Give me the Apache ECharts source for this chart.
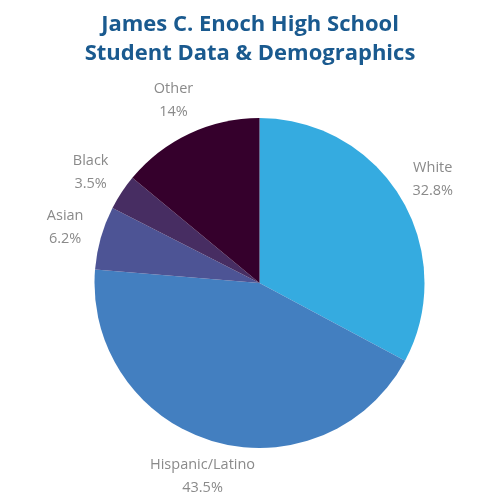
<!DOCTYPE html>
<html><head><meta charset="utf-8">
<script src="https://cdn.jsdelivr.net/npm/echarts@6/dist/echarts.min.js"></script>
<style>html,body{margin:0;padding:0;background:#fff}#c{width:500px;height:500px}</style>
</head><body><div id="c"></div>
<script>
const categories = ['White', 'Hispanic/Latino', 'Asian', 'Black', 'Other'];
const values = [32.8, 43.5, 6.2, 3.5, 14];
const valueLabels = ['32.8%', '43.5%', '6.2%', '3.5%', '14%'];
const colors = ['#35ABE0', '#437FC0', '#4D5495', '#472D62', '#35002C'];

const chart = echarts.init(document.getElementById('c'), null, {renderer: 'canvas'});
const LABEL_OFF = 37;
chart.setOption({
  animation: false,
  title: {
    text: 'James C. Enoch High School\nStudent Data & Demographics',
    left: 'center', top: 5,
    textStyle: {fontFamily: 'Open Sans', fontWeight: 'bold', fontSize: 22, lineHeight: 29, color: '#1A5A8F'}
  },
  series: [{
    type: 'pie',
    center: ['51.9%', '56.6%'],
    radius: 165,
    startAngle: 90,
    clockwise: true,
    avoidLabelOverlap: false,
    itemStyle: {borderWidth: 0},
    label: {
      show: true, position: 'outside',
      formatter: p => p.name + '\n' + valueLabels[p.dataIndex],
      fontFamily: 'Open Sans', fontSize: 14.5, lineHeight: 23, color: '#8A8A8A'
    },
    labelLine: {show: false, length: LABEL_OFF, length2: 0},
    labelLayout: function (p) {
      const pts = p.labelLinePoints;
      if (!pts) return {};
      return {x: pts[1][0], y: pts[1][1], align: 'center', verticalAlign: 'middle'};
    },
    data: categories.map((n, i) => ({name: n, value: values[i], itemStyle: {color: colors[i]}}))
  }]
});
</script></body></html>
